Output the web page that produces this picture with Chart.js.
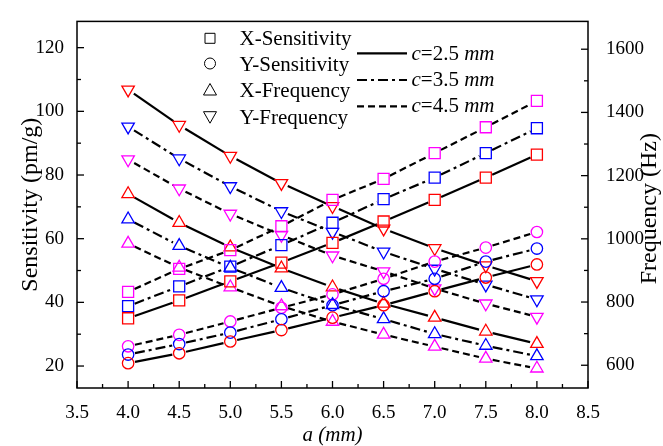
<!DOCTYPE html>
<html><head><meta charset="utf-8">
<script src="https://cdn.jsdelivr.net/npm/chart.js@4/dist/chart.umd.min.js"></script>
<style>html,body{margin:0;padding:0;background:#fff}#wrap{width:663px;height:446px;position:relative}</style>
</head><body><div id="wrap"><canvas id="c"></canvas></div>
<script>
// ---- data ----
const aValues = [4.0, 4.5, 5.0, 5.5, 6.0, 6.5, 7.0, 7.5, 8.0];
const xTicks = [3.5, 4.0, 4.5, 5.0, 5.5, 6.0, 6.5, 7.0, 7.5, 8.0, 8.5];
const sensTicks = [20, 40, 60, 80, 100, 120];
const freqTicks = [600, 800, 1000, 1200, 1400, 1600];
const xSens_c25 = [35.0, 40.6, 46.6, 52.5, 58.7, 65.4, 72.2, 79.2, 86.4];
const xSens_c35 = [38.8, 45.0, 51.2, 58.0, 65.0, 72.4, 79.2, 86.9, 94.7];
const xSens_c45 = [43.3, 50.5, 56.4, 63.9, 72.2, 78.8, 86.9, 95.0, 103.3];
const ySens_c25 = [20.9, 24.0, 27.7, 31.3, 35.2, 39.1, 43.5, 47.8, 51.9];
const ySens_c35 = [23.6, 26.9, 30.5, 34.7, 39.1, 43.5, 47.4, 52.8, 56.9];
const ySens_c45 = [26.2, 29.8, 34.0, 38.3, 42.5, 47.4, 52.8, 57.2, 62.1];
const xFreq_c25 = [1142, 1051, 973, 907, 847, 795, 751, 707, 668];
const xFreq_c35 = [1062, 978, 909, 845, 791, 746, 699, 662, 629];
const xFreq_c45 = [985, 909, 847, 787, 738, 697, 659, 621, 590];
const yFreq_c25 = [1472, 1360, 1262, 1176, 1103, 1032, 970, 916, 866];
const yFreq_c35 = [1355, 1254, 1166, 1087, 1022, 959, 905, 855, 808];
const yFreq_c45 = [1251, 1159, 1079, 1012, 947, 897, 843, 795, 753];
const seriesNames = ['X-Sensitivity', 'Y-Sensitivity', 'X-Frequency', 'Y-Frequency'];
const cLabels = ['2.5', '3.5', '4.5'];

// ---- styles ----
const FONT = 'Liberation Serif, Times New Roman, serif';
const cColors = ['#ff0000', '#0000ff', '#ff00ff'];
const cDash = [[], [10, 4, 3, 4], [7, 4]];
const shapes = [
  {style: 'rect', radius: 7.8, rot: 0},
  {style: 'circle', radius: 5.7, rot: 0},
  {style: 'triangle', radius: 7.2, rot: 0},
  {style: 'triangle', radius: 7.2, rot: 180}
];
const groups = [
  [xSens_c25, xSens_c35, xSens_c45],
  [ySens_c25, ySens_c35, ySens_c45],
  [xFreq_c25, xFreq_c35, xFreq_c45],
  [yFreq_c25, yFreq_c35, yFreq_c45]
];

const datasets = [];
groups.forEach((grp, s) => {
  grp.forEach((vals, ci) => {
    datasets.push({
      label: seriesNames[s] + ' c=' + cLabels[ci] + ' mm',
      data: aValues.map((a, i) => ({x: a, y: vals[i]})),
      yAxisID: s < 2 ? 'y' : 'y1',
      showLine: false,
      pointStyle: shapes[s].style,
      pointRadius: shapes[s].radius,
      pointRotation: shapes[s].rot,
      pointBorderColor: cColors[ci],
      pointBackgroundColor: 'rgba(0,0,0,0)',
      pointBorderWidth: 1.3,
      cIndex: ci
    });
  });
});

function gapLine(ctx, pts, gap) {
  for (let i = 0; i < pts.length - 1; i++) {
    const p = pts[i], q = pts[i + 1];
    const dx = q.x - p.x, dy = q.y - p.y, L = Math.hypot(dx, dy);
    if (L <= 2 * gap) continue;
    const ux = dx / L, uy = dy / L;
    ctx.beginPath();
    ctx.moveTo(p.x + ux * gap, p.y + uy * gap);
    ctx.lineTo(q.x - ux * gap, q.y - uy * gap);
    ctx.stroke();
  }
}

const decor = {
  id: 'decor',
  beforeDatasetsDraw(chart) {
    const ctx = chart.ctx;
    ctx.save();
    ctx.strokeStyle = '#000';
    ctx.lineWidth = 2.2;
    chart.data.datasets.forEach((ds, i) => {
      const meta = chart.getDatasetMeta(i);
      ctx.setLineDash(cDash[ds.cIndex]);
      gapLine(ctx, meta.data.map(e => ({x: e.x, y: e.y})), 7);
    });
    ctx.restore();
  },
  afterDraw(chart) {
    const ctx = chart.ctx, ca = chart.chartArea;
    const xs = chart.scales.x, yl = chart.scales.y, yr = chart.scales.y1;
    ctx.save();
    ctx.strokeStyle = '#000';
    ctx.setLineDash([]);
    ctx.lineWidth = 1.5;
    ctx.strokeRect(ca.left, ca.top, ca.right - ca.left, ca.bottom - ca.top);
    ctx.lineWidth = 1.3;
    const seg = (x1, y1, x2, y2) => { ctx.beginPath(); ctx.moveTo(x1, y1); ctx.lineTo(x2, y2); ctx.stroke(); };
    for (let k = 0; k <= 20; k++) {
      const v = 3.5 + k * 0.25;
      const px = xs.getPixelForValue(v);
      seg(px, ca.bottom, px, ca.bottom - (k % 2 === 0 ? 7 : 4));
    }
    for (let v = 20; v <= 120; v += 10) {
      const py = yl.getPixelForValue(v);
      seg(ca.left, py, ca.left + (v % 20 === 0 ? 7 : 4), py);
    }
    for (let v = 600; v <= 1600; v += 100) {
      const py = yr.getPixelForValue(v);
      seg(ca.right, py, ca.right - (v % 200 === 0 ? 7 : 4), py);
    }
    // right axis title (reads bottom-to-top)
    ctx.fillStyle = '#000';
    ctx.font = '24px ' + FONT;
    ctx.textAlign = 'center';
    ctx.textBaseline = 'middle';
    ctx.save();
    ctx.translate(650, (ca.top + ca.bottom) / 2 + 4);
    ctx.rotate(-Math.PI / 2);
    ctx.fillText('Frequency (Hz)', 0, 0);
    ctx.restore();

    // legend: symbols
    const symX = 210, symY = [38.3, 63.5, 90, 116.7];
    ctx.lineWidth = 1;
    ctx.strokeStyle = '#000';
    shapes.forEach((sh, s) => {
      const y = symY[s];
      ctx.beginPath();
      if (sh.style === 'rect') {
        ctx.rect(symX - 5, y - 5, 10, 10);
      } else if (sh.style === 'circle') {
        ctx.arc(symX, y, 5.5, 0, Math.PI * 2);
      } else if (sh.rot === 0) {
        ctx.moveTo(symX, y - 6.5); ctx.lineTo(symX + 6.5, y + 5); ctx.lineTo(symX - 6.5, y + 5); ctx.closePath();
      } else {
        ctx.moveTo(symX, y + 6.5); ctx.lineTo(symX + 6.5, y - 5); ctx.lineTo(symX - 6.5, y - 5); ctx.closePath();
      }
      ctx.stroke();
    });
    ctx.textAlign = 'left';
    ctx.textBaseline = 'alphabetic';
    ctx.font = '21px ' + FONT;
    const baseY = [45, 70.5, 97, 123.5];
    seriesNames.forEach((n, s) => ctx.fillText(n, 239.5, baseY[s]));
    // legend: line styles
    const lineY = [53.3, 80, 106.3];
    const txtY = [59.5, 86, 112];
    ctx.lineWidth = 2.2;
    cLabels.forEach((c, ci) => {
      ctx.setLineDash(cDash[ci]);
      seg(357, lineY[ci], 407, lineY[ci]);
      ctx.setLineDash([]);
      let x = 411.5;
      ctx.font = 'italic 21px ' + FONT;
      ctx.fillText('c', x, txtY[ci]); x += ctx.measureText('c').width;
      ctx.font = '21px ' + FONT;
      const mid = '=' + c + ' ';
      ctx.fillText(mid, x, txtY[ci]); x += ctx.measureText(mid).width;
      ctx.font = 'italic 21px ' + FONT;
      ctx.fillText('mm', x, txtY[ci]);
    });
    ctx.restore();
  }
};

const tickFont = {family: FONT, size: 19};
new Chart(document.getElementById('c'), {
  type: 'scatter',
  data: {datasets},
  options: {
    responsive: true,
    maintainAspectRatio: false,
    animation: false,
    events: [],
    layout: {padding: {top: 17, left: 0, right: 0, bottom: 0}},
    plugins: {legend: {display: false}, tooltip: {enabled: false}},
    scales: {
      x: {
        type: 'linear', min: 3.5, max: 8.5,
        grid: {display: false}, border: {display: false},
        afterBuildTicks: sc => { sc.ticks = xTicks.map(v => ({value: v})); },
        afterFit: sc => { sc.height = 58; },
        ticks: {font: tickFont, color: '#000', padding: 6, maxRotation: 0, autoSkip: false,
          callback: v => Number(v).toFixed(1)},
        title: {display: true, text: 'a (mm)', color: '#000',
          font: {family: FONT, size: 21, style: 'italic', lineHeight: 1.0}, padding: {top: 0, bottom: 0}}
      },
      y: {
        type: 'linear', position: 'left', min: 13.1, max: 128.25,
        grid: {display: false}, border: {display: false},
        afterBuildTicks: sc => { sc.ticks = sensTicks.map(v => ({value: v})); },
        afterFit: sc => { sc.width = 77; },
        ticks: {font: tickFont, color: '#000', padding: 5, callback: v => String(v)},
        title: {display: true, text: 'Sensitivity (pm/g)', color: '#000',
          font: {family: FONT, size: 24}, padding: {top: 16, bottom: 0}}
      },
      y1: {
        type: 'linear', position: 'right', min: 528, max: 1688,
        grid: {display: false}, border: {display: false},
        afterBuildTicks: sc => { sc.ticks = freqTicks.map(v => ({value: v})); },
        afterFit: sc => { sc.width = 75; },
        ticks: {font: tickFont, color: '#000', padding: 10, callback: v => String(v)},
        title: {display: false}
      }
    }
  },
  plugins: [decor]
});
</script>
</body></html>
